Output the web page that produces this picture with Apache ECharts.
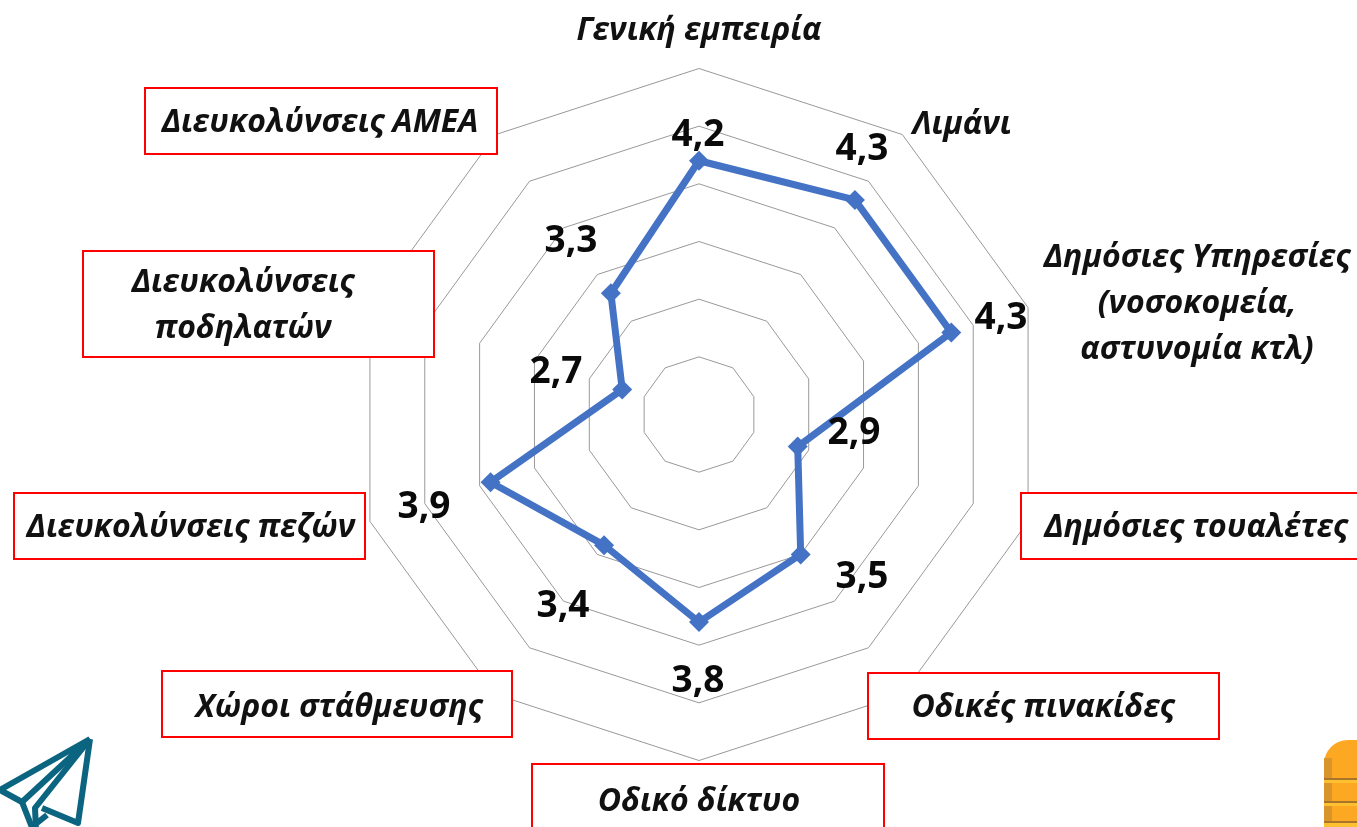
<!DOCTYPE html>
<html><head><meta charset="utf-8">
<style>html,body{margin:0;padding:0;background:#fff}#c{width:1357px;height:827px}</style>
<script src="https://cdn.jsdelivr.net/npm/echarts@6/dist/echarts.min.js"></script>
</head><body><div id="c"></div>
<script>
const categories = ["Γενική εμπειρία","Λιμάνι","Δημόσιες Υπηρεσίες\n(νοσοκομεία,\nαστυνομία κτλ)","Δημόσιες τουαλέτες","Οδικές πινακίδες","Οδικό δίκτυο","Χώροι στάθμευσης","Διευκολύνσεις πεζών","Διευκολύνσεις\nποδηλατών","Διευκολύνσεις ΑΜΕΑ"];
const values = [4.2,4.3,4.3,2.9,3.5,3.8,3.4,3.9,2.7,3.3];
const valueLabels = ["4,2","4,3","4,3","2,9","3,5","3,8","3,4","3,9","2,7","3,3"];
const axisMin = 2, axisMax = 5;

const namePos = [[699,31],[962,125],[1197,304],[1196,528],[1043,708],[699,802],[339,708],[191,528],[243,306],[320,123]];
const valuePos = [[698,135],[862,149],[1001,318],[854,433],[862,577],[698,681],[563,606],[424,507],[556,372],[571,241]];
const boxes = [[145,88,352,66],[83,251,351,106],[14,493,351,66],[162,671,350,66],[532,764,352,70],[868,673,351,66],[1021,493,345,66]];

// ECharts lays radar axes out anticlockwise; the reference runs clockwise from the top.
const clockwise = arr => [arr[0], ...arr.slice(1).reverse()];

const g = [];
boxes.forEach(b => g.push({type:'rect',z:1,shape:{x:b[0],y:b[1],width:b[2],height:b[3]},style:{fill:'#fff',stroke:'#ff0000',lineWidth:2}}));
categories.forEach((t,i) => g.push({type:'text',z:5,x:namePos[i][0],y:namePos[i][1],style:{text:t,align:'center',verticalAlign:'middle',fill:'#111',font:'italic bold 32px "Open Sans"',lineHeight:46}}));
valueLabels.forEach((t,i) => g.push({type:'text',z:6,x:valuePos[i][0],y:valuePos[i][1],style:{text:t,align:'center',verticalAlign:'middle',fill:'#0a0a0a',font:'bold 37px "Open Sans"'}}));
// paper plane
const teal = {stroke:'#0b6480',lineWidth:6,fill:null,lineJoin:'round'};
[[[90,739],[0,790],[22,802],[90,739]],[[22,802],[33,830]],[[90,739],[35,808],[36,830]],[[90,739],[78,823],[42,808]],[[37,823],[47,815]]].forEach(p =>
  g.push({type:'polyline',z:2,shape:{points:p},style:teal}));
// coin stack
g.push({type:'rect',z:2,shape:{x:1324,y:740,width:60,height:100,r:[24,0,0,0]},style:{fill:'#fca823'}});
g.push({type:'rect',z:2,shape:{x:1324,y:758,width:8,height:70},style:{fill:'#d9952a'}});
[[778,'#a8752a',2],[780,'#fdc030',3],[801,'#a8752a',2],[803,'#fdc030',3],[821,'#a8752a',2],[823,'#fdc030',4]].forEach(s =>
  g.push({type:'rect',z:3,shape:{x:1324,y:s[0],width:40,height:s[2]},style:{fill:s[1]}}));

const chart = echarts.init(document.getElementById('c'),null,{renderer:'canvas'});
chart.setOption({
  animation:false,
  backgroundColor:'#fff',
  graphic:{elements:g},
  radar:{
    center:[699,414.5],radius:346,startAngle:90,splitNumber:6,shape:'polygon',
    indicator:clockwise(categories).map(c=>({name:c,min:axisMin,max:axisMax})),
    axisName:{show:false},
    axisLine:{show:false},axisTick:{show:false},axisLabel:{show:false},
    splitArea:{show:false},
    splitLine:{lineStyle:{color:'#999999',width:1}}
  },
  series:[{type:'radar',z:4,symbol:'diamond',symbolSize:20,
    lineStyle:{color:'#4472c4',width:7},itemStyle:{color:'#4472c4'},
    data:[{value:clockwise(values),name:'Βαθμολογία'}]}]
});
</script></body></html>
